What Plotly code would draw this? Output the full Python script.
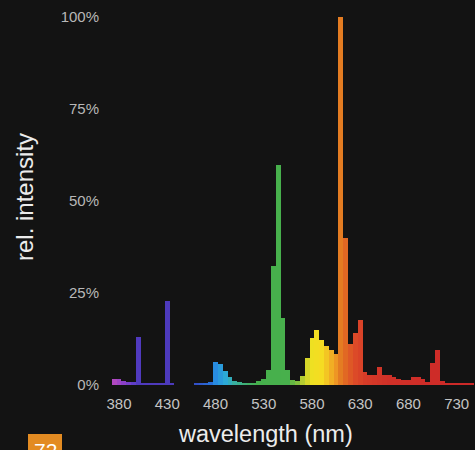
import plotly.graph_objects as go

# ---- data ----
wavelengths = list(range(375, 750, 5))  # bin centres, nm
intensity = [
    1.5, 1.6, 1.0, 0.8, 0.8,          # 375-395
    13.1, 0.5, 0.4, 0.4, 0.4, 0.5,    # 400-425
    22.9, 0.3, 0, 0, 0, 0,            # 430-455
    0.3, 0.4, 0.6, 0.9,               # 460-475
    6.3, 5.6, 3.8, 2.3, 1.0, 0.9,     # 480-505
    0.6, 0.5, 0.6, 1.0, 1.6, 4.0,     # 510-535
    32.2, 59.8, 18.1, 4.0, 1.4, 1.2,  # 540-565
    2.5, 7.3, 12.8, 15.0, 12.3, 10.6, # 570-595
    9.6, 8.3, 100, 40, 11, 14,        # 600-625
    17.7, 3.6, 2.7, 2.7, 5.0, 2.7,    # 630-655
    2.6, 2.1, 1.6, 1.4, 1.4, 2.1,     # 660-685
    2.1, 1.5, 0.9, 6.0, 9.5, 1.1,     # 690-715
    0.4, 0.4, 0.4, 0.4, 0.4, 0.4,     # 720-745
]
x_ticks = [380, 430, 480, 530, 580, 630, 680, 730]
y_ticks = [0, 25, 50, 75, 100]

# ---- spectrum colouring ----
stops = [
    (375, (176, 72, 192)), (385, (140, 64, 200)), (395, (96, 62, 200)),
    (400, (80, 58, 190)), (435, (76, 58, 188)), (460, (50, 80, 200)),
    (475, (40, 110, 215)), (480, (40, 140, 225)), (490, (44, 170, 215)),
    (500, (56, 176, 160)), (515, (66, 176, 100)), (525, (70, 176, 76)),
    (555, (72, 176, 76)), (565, (130, 190, 60)), (572, (200, 210, 45)),
    (580, (238, 224, 34)), (590, (245, 220, 34)), (598, (242, 184, 36)),
    (605, (238, 150, 36)), (610, (228, 124, 34)), (617, (224, 96, 36)),
    (625, (220, 74, 40)), (635, (214, 60, 40)), (660, (208, 48, 40)),
    (750, (204, 40, 40)),
]


def spec_color(w):
    if w <= stops[0][0]:
        c = stops[0][1]
    elif w >= stops[-1][0]:
        c = stops[-1][1]
    else:
        for (w0, c0), (w1, c1) in zip(stops[:-1], stops[1:]):
            if w0 <= w <= w1:
                t = (w - w0) / (w1 - w0)
                c = tuple(round(a + (b - a) * t) for a, b in zip(c0, c1))
                break
    return "rgb(%d,%d,%d)" % c


colors = [spec_color(w) for w in wavelengths]

bg = "#131313"
fig = go.Figure(
    go.Bar(
        x=wavelengths,
        y=intensity,
        width=5,
        marker=dict(color=colors, line=dict(width=0)),
        hoverinfo="x+y",
    )
)

fig.update_layout(
    width=475,
    height=450,
    margin=dict(l=105, r=0, t=2, b=65),
    paper_bgcolor=bg,
    plot_bgcolor=bg,
    bargap=0,
    showlegend=False,
    font=dict(family="Liberation Sans, Arial, sans-serif"),
    xaxis=dict(
        range=[365.49, 748.99],
        tickvals=x_ticks,
        ticktext=[str(v) for v in x_ticks],
        tickfont=dict(size=15, color="#c4c4c4"),
        showgrid=False,
        zeroline=False,
        showline=False,
        ticks="",
        ticklabelstandoff=8,
        fixedrange=True,
    ),
    yaxis=dict(
        range=[0, 104],
        tickvals=y_ticks,
        ticktext=["%d%%" % v for v in y_ticks],
        tickfont=dict(size=15, color="#b8b8b8"),
        showgrid=False,
        zeroline=False,
        showline=False,
        ticks="",
        ticklabelstandoff=5,
        fixedrange=True,
    ),
    annotations=[
        dict(
            text="wavelength (nm)", xref="paper", yref="paper",
            x=(265 - 105) / 370, y=(385 - 434) / 383,
            xanchor="center", yanchor="middle", showarrow=False,
            font=dict(size=23.5, color="#ececec"),
        ),
        dict(
            text="rel. intensity", xref="paper", yref="paper",
            x=(24 - 105) / 370, y=(385 - 197) / 383, textangle=-90,
            xanchor="center", yanchor="middle", showarrow=False,
            font=dict(size=24, color="#ececec"),
        ),
        dict(
            text="72", xref="paper", yref="paper",
            x=(45 - 105) / 370, y=(385 - 437) / 383,
            xanchor="center", yanchor="top", showarrow=False,
            font=dict(size=21, color="#ffffff"),
        ),
    ],
    shapes=[
        dict(
            type="rect", xref="paper", yref="paper", layer="below",
            x0=(28 - 105) / 370, x1=(62 - 105) / 370,
            y0=(385 - 470) / 383, y1=(385 - 434) / 383,
            fillcolor="#e38b22", line=dict(width=0),
        )
    ],
)

fig.write_html(
    "out.html",
    config={"displayModeBar": False},
    post_script="document.body.style.margin='0';"
                "document.body.style.background='#131313';",
)
